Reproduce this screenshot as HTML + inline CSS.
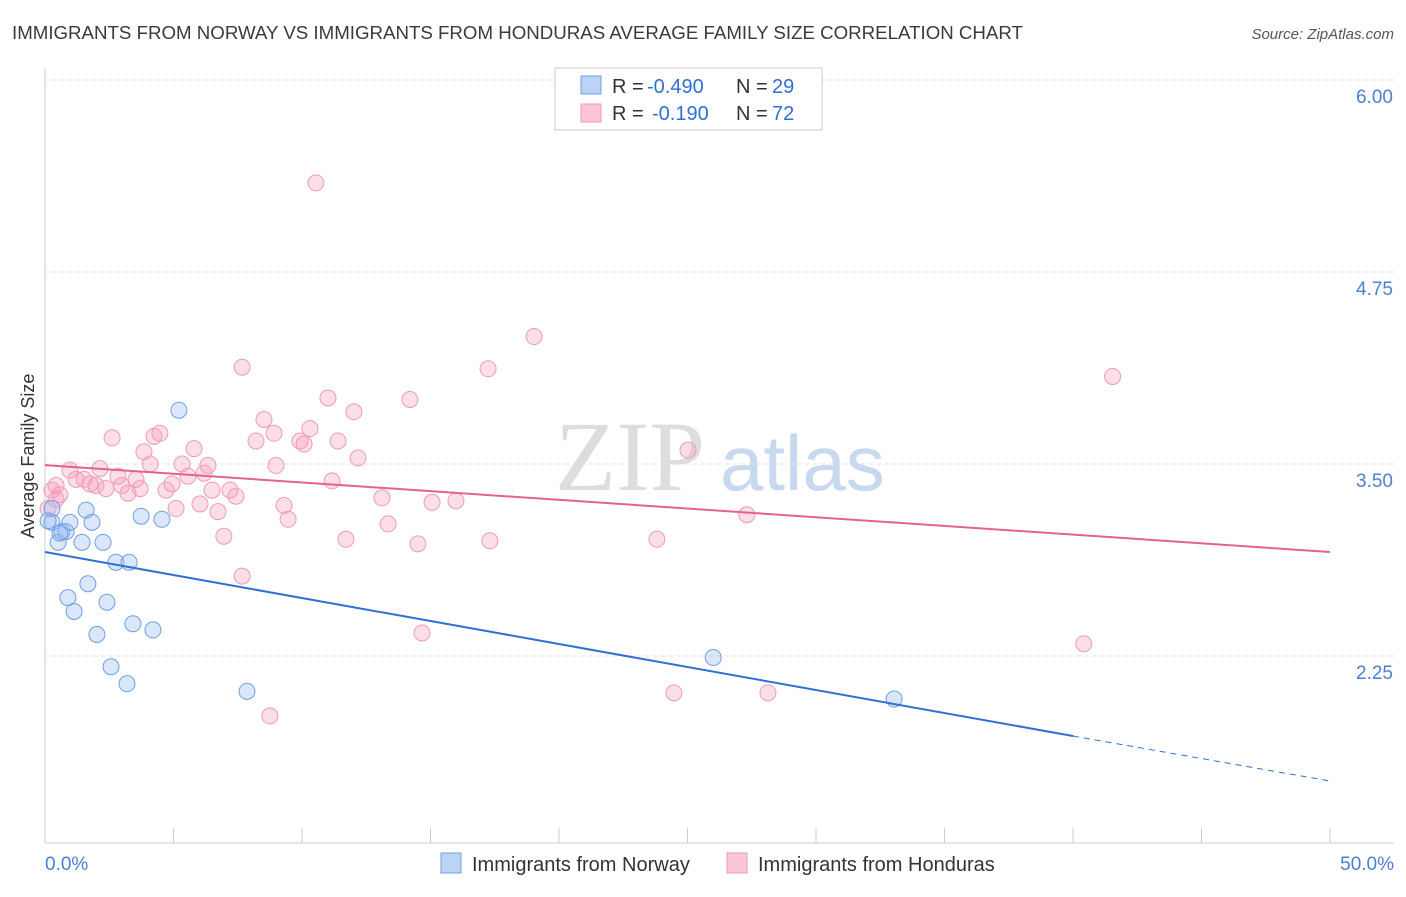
<!DOCTYPE html>
<html><head><meta charset="utf-8"><style>
body{margin:0;background:#fff;font-family:"Liberation Sans",sans-serif;}
</style></head><body>
<svg id="c" width="1406" height="892" xmlns="http://www.w3.org/2000/svg" font-family="Liberation Sans, sans-serif"></svg>
<script>
const yTicks=[6.00,4.75,3.50,2.25];
const yTickLabels=["6.00","4.75","3.50","2.25"];
const norwayX=[0.27,0.51,0.66,0.82,0.97,1.44,1.6,1.83,2.26,2.76,3.27,1.67,0.89,1.13,2.41,2.02,3.42,4.2,2.57,3.19,3.74,4.55,5.21,7.86,26.0,33.04,0.27,0.58,0.12];
const norwayY=[3.12,2.99,3.06,3.06,3.12,2.99,3.2,3.12,2.99,2.86,2.86,2.72,2.63,2.54,2.6,2.39,2.46,2.42,2.18,2.07,3.16,3.14,3.85,2.02,2.24,1.97,3.21,3.05,3.13];
const hondX=[0.27,0.43,0.58,0.97,1.21,1.52,1.75,1.98,2.14,2.37,2.61,2.84,2.99,3.23,3.54,3.7,3.85,4.09,4.24,4.47,4.71,4.94,5.1,5.33,5.56,5.8,6.03,6.19,6.34,6.5,6.73,6.96,7.2,7.43,7.67,7.67,8.21,8.52,8.75,8.91,8.99,9.3,9.46,9.92,10.08,10.31,10.54,11.01,11.17,11.4,11.71,12.02,12.18,13.11,13.35,14.2,14.51,14.67,15.06,15.99,17.31,17.24,19.03,23.81,24.47,25.02,27.31,28.13,40.42,41.54,0.12,0.43];
const hondY=[3.33,3.36,3.3,3.46,3.4,3.4,3.37,3.36,3.47,3.34,3.67,3.42,3.36,3.31,3.4,3.34,3.58,3.5,3.68,3.7,3.33,3.37,3.21,3.5,3.42,3.6,3.24,3.44,3.49,3.33,3.19,3.03,3.33,3.29,2.77,4.13,3.65,3.79,1.86,3.7,3.49,3.23,3.14,3.65,3.63,3.73,5.33,3.93,3.39,3.65,3.01,3.84,3.54,3.28,3.11,3.92,2.98,2.4,3.25,3.26,3.0,4.12,4.33,3.01,2.01,3.59,3.17,2.01,2.33,4.07,3.21,3.27];
const norwayLine=[[0,2.927],[40,1.729]];
const norwayDash=[[40,1.729],[50,1.436]];
const hondLine=[[0,3.493],[50,2.927]];
const NS="http://www.w3.org/2000/svg";
const svg=document.getElementById('c');
const X=v=>45+v/50*1285;
const Y=v=>80+(6-v)*153.6;
function mk(t,a,p){const e=document.createElementNS(NS,t);for(const k in a)e.setAttribute(k,a[k]);(p||svg).appendChild(e);return e;}
function txt(s,a){const e=mk('text',a);e.textContent=s;return e;}
let e=txt("IMMIGRANTS FROM NORWAY VS IMMIGRANTS FROM HONDURAS AVERAGE FAMILY SIZE CORRELATION CHART",{x:12,y:39,'font-size':18.7,fill:'#3a3a3a'});

e=txt("Source: ZipAtlas.com",{x:1394,y:39,'font-size':15,fill:'#555','font-style':'italic','text-anchor':'end'});

e=txt("ZIP",{x:555,y:490,'font-size':100,fill:'#ddd','font-family':'Liberation Serif, serif'});

e=txt("atlas",{x:720,y:490,'font-size':78,fill:'#c8d8ee'});

yTicks.forEach((v,i)=>{
 const g=mk('line',{x1:45,x2:1394,y1:Y(v),y2:Y(v),stroke:'#ddd','stroke-dasharray':'4,4'});
 
 const t=txt(yTickLabels[i],{x:1393,y:Y(v)+23,'font-size':19,fill:'#4a7fd4','text-anchor':'end'});
 
});
e=mk('line',{x1:45,x2:45,y1:68,y2:843,stroke:'#ccc'});

e=mk('line',{x1:45,x2:1394,y1:843,y2:843,stroke:'#ccc'});

for(let i=0;i<=10;i++){e=mk('line',{x1:X(i*5),x2:X(i*5),y1:828,y2:843,stroke:'#ccc'});
 }
e=txt("0.0%",{x:45,y:870,'font-size':19,fill:'#4a7fd4'});

e=txt("50.0%",{x:1394,y:870,'font-size':19,fill:'#4a7fd4','text-anchor':'end'});

e=txt("Average Family Size",{x:34,y:456,'font-size':18,fill:'#333','text-anchor':'middle',transform:'rotate(-90 34 456)'});

hondX.forEach((x,i)=>{const c=mk('circle',{cx:X(x),cy:Y(hondY[i]),r:8,fill:'rgba(246,160,190,0.35)',stroke:'#ef9ab8','stroke-width':1});
 });
norwayX.forEach((x,i)=>{const c=mk('circle',{cx:X(x),cy:Y(norwayY[i]),r:8,fill:'rgba(150,185,240,0.35)',stroke:'#6f9fe0','stroke-width':1});
 });
e=mk('line',{x1:X(hondLine[0][0]),y1:Y(hondLine[0][1]),x2:X(hondLine[1][0]),y2:Y(hondLine[1][1]),stroke:'#e5628e','stroke-width':2});

e=mk('line',{x1:X(norwayLine[0][0]),y1:Y(norwayLine[0][1]),x2:X(norwayLine[1][0]),y2:Y(norwayLine[1][1]),stroke:'#2f6fd6','stroke-width':2});

e=mk('line',{x1:X(norwayDash[0][0]),y1:Y(norwayDash[0][1]),x2:X(norwayDash[1][0]),y2:Y(norwayDash[1][1]),stroke:'#2f6fd6','stroke-width':1,'stroke-dasharray':'6,5'});

const lg=mk('g',{});
mk('rect',{x:555,y:68,width:267,height:62,fill:'#fff',stroke:'#ccc'},lg);
mk('rect',{x:581,y:76,width:20,height:18,fill:'#bcd3f5',stroke:'#6f9fe0'},lg);
mk('rect',{x:581,y:104,width:20,height:18,fill:'#fbc7d7',stroke:'#ef9ab8'},lg);
function lt(s,x,y,c){const t=mk('text',{x:x,y:y,'font-size':20,fill:c},lg);t.textContent=s;}
lt("R =",612,93,'#333');lt("-0.490",647,93,'#2f6fd6');lt("N =",736,93,'#333');lt("29",772,93,'#2f6fd6');
lt("R =",612,120,'#333');lt("-0.190",652,120,'#2f6fd6');lt("N =",736,120,'#333');lt("72",772,120,'#2f6fd6');
e=mk('rect',{x:441,y:853,width:20,height:20,fill:'#bcd3f5',stroke:'#6f9fe0'});

e=txt("Immigrants from Norway",{x:472,y:871,'font-size':20,fill:'#333'});

e=mk('rect',{x:727,y:853,width:20,height:20,fill:'#fbc7d7',stroke:'#ef9ab8'});

e=txt("Immigrants from Honduras",{x:758,y:871,'font-size':20,fill:'#333'});

</script>
</body></html>
